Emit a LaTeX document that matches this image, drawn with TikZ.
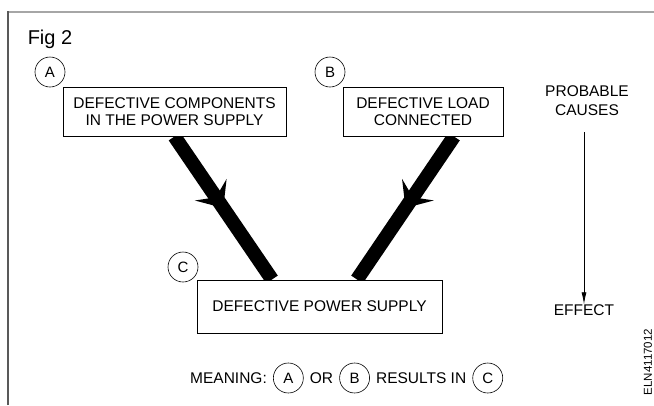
\documentclass[tikz,border=0pt]{standalone}
\usepackage{fontspec}
\setmainfont{Liberation Sans}
\usetikzlibrary{arrows.meta,decorations.markings,positioning}
\begin{document}
\begin{tikzpicture}[x=1pt,y=-1pt,
  box/.style={draw,line width=1pt,fill=white,inner sep=0pt,align=center,font=\fontsize{15.5}{17.5}\selectfont},
  lbl/.style={font=\fontsize{15.5}{19}\selectfont,align=center,inner sep=0pt},
  circ/.style={draw,circle,line width=0.6pt,minimum size=30pt,inner sep=0pt,font=\fontsize{15}{17}\selectfont},
  band/.style={line width=14pt,postaction={decorate},decoration={markings,mark=at position 0.5 with {\arrow{Stealth[length=22pt,width=38pt,inset=9pt]}}}},
  ]
\useasboundingbox (0,0) rectangle (654,405);
\draw[black!35,line width=1.5pt] (8,12) -- (654,12);
\draw[black!65,line width=1.5pt] (8,405) -- (8,11.25);
\node[font=\fontsize{20}{24}\selectfont,inner sep=0pt] (fig) at (50,39) {Fig 2};
% box positions (named first, drawn after bands)
\path (174.5,111.5) coordinate (ca) (423,111.5) coordinate (cb) (319.5,306.5) coordinate (cc);
\node[box,draw=none,fill=none,minimum width=223pt,minimum height=49pt] (boxA) at (ca) {};
\node[box,draw=none,fill=none,minimum width=160pt,minimum height=49pt] (boxB) at (cb) {};
\node[box,draw=none,fill=none,minimum width=245pt,minimum height=53pt] (boxC) at (cc) {};
\draw[band] (boxA.south) -- ([xshift=-47.5pt]boxC.north);
\draw[band] ([xshift=31pt]boxB.south) -- ([xshift=37.5pt]boxC.north);
\node[box,minimum width=223pt,minimum height=49pt] at (ca) {DEFECTIVE COMPONENTS\\IN THE POWER SUPPLY};
\node[box,minimum width=160pt,minimum height=49pt] at (cb) {DEFECTIVE LOAD\\CONNECTED};
\node[box,minimum width=245pt,minimum height=53pt] at (cc) {DEFECTIVE POWER SUPPLY};
\node[circ] (cA) at (50,72) {A};
\node[circ] (cB) at (330,72) {B};
\node[circ] (cC) at (183,267) {C};
% cause/effect
\node[lbl] (pc) at (587,101) {PROBABLE\\CAUSES};
\node[lbl] (eff) at (584,310) {EFFECT};
\coordinate (vtop) at (584,132);
\draw[line width=0.8pt,-{Latex[length=12pt,width=5pt]}] (vtop) -- (eff.north);
% meaning line
\node[lbl,anchor=west] (mean) at (190,378) {MEANING:};
\node[circ,right=6pt of mean] (mA) {A};
\node[lbl,right=6pt of mA] (or) {OR};
\node[circ,right=6pt of or] (mB) {B};
\node[lbl,right=6pt of mB] (res) {RESULTS IN};
\node[circ,right=6pt of res] (mC) {C};
\node[rotate=90,font=\fontsize{11.5}{14}\selectfont,inner sep=0pt] (code) at (648,362) {ELN4117012};
\end{tikzpicture}
\end{document}
